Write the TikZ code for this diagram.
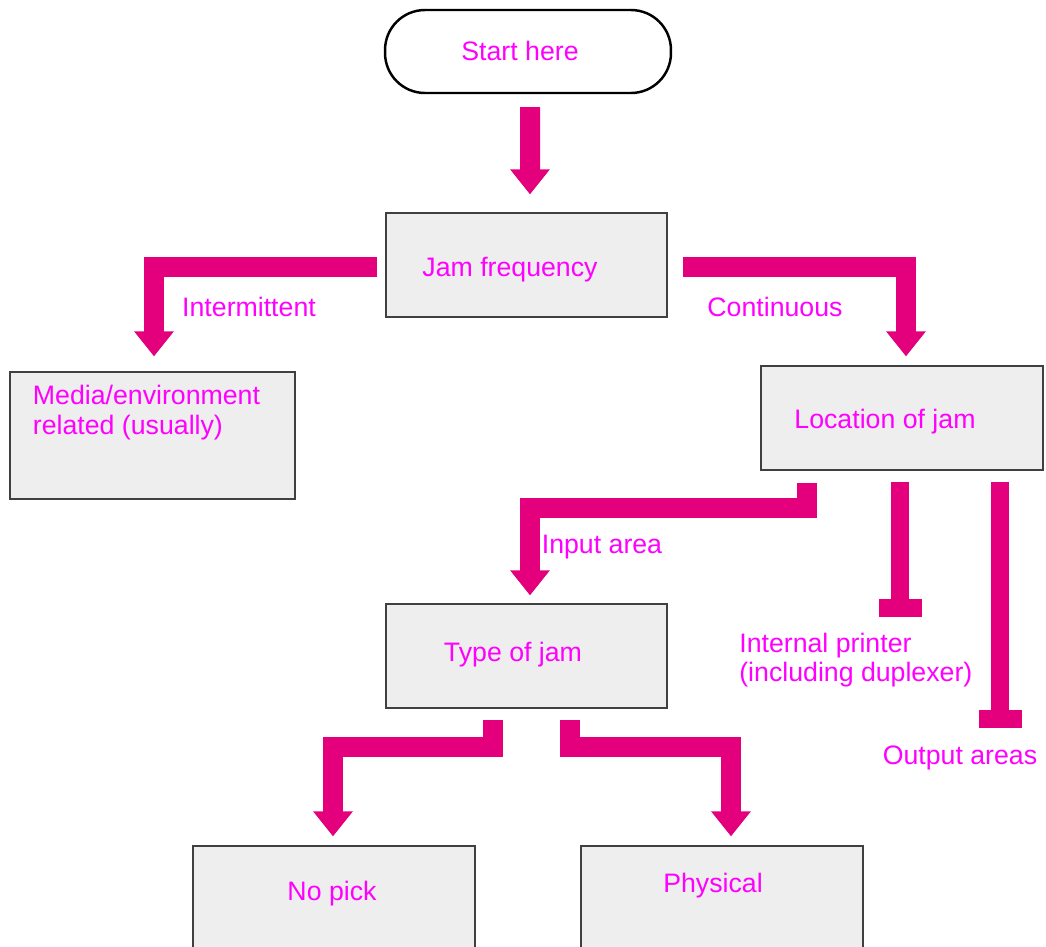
\documentclass[tikz,border=0pt]{standalone}
\usepackage{fontspec}
\setmainfont{Liberation Sans}
\usetikzlibrary{positioning,calc,arrows.meta}
\definecolor{jampink}{HTML}{E4007C}
\definecolor{jamtext}{HTML}{FF00FF}
\definecolor{jamgrey}{HTML}{EEEEEE}
\tikzset{
  stepbox/.style={draw=black!75,line width=0.7pt,fill=jamgrey,inner sep=0pt},
  jamlabel/.style={text=jamtext,font=\fontsize{15.2}{17}\selectfont,inner sep=0pt,align=left},
  fatarrow/.style={draw=jampink,line width=0.4cm,line join=miter,
    -{Triangle[width=0.76cm,length=0.5cm]}},
  fatstop/.style={draw=jampink,line width=0.36cm,
    -{Rectangle[width=0.86cm,length=0.36cm]}},
}
% box: name, centre, width, height, text, text offset
\newcommand{\jambox}[6]{%
  \node[stepbox,minimum width=#3,minimum height=#4] (#1) at (#2) {};
  \node[jamlabel] (#1-t) at ($(#1.center)+(#6)$) {#5};
}

\begin{document}
\begin{tikzpicture}[x=0.02cm,y=-0.02cm]
  \clip (0,0) rectangle (1046,947);
  \node[draw=black,line width=1.4pt,rounded corners=0.8cm,minimum width=5.72cm,
        minimum height=1.66cm,inner sep=0pt] (start) at (528,51.5) {};
  \node[jamlabel] (start-t) at (520,51) {Start here};
  \jambox{freq}{526.5,265}{5.62cm}{2.08cm}{Jam frequency}{-16.5,5}
  \jambox{media}{152.5,435.5}{5.70cm}{2.54cm}{Media/environment\\related (usually)}{-6,-22.5}
  \jambox{loc}{902,418}{5.64cm}{2.08cm}{Location of jam}{-17,4}
  \jambox{kind}{526.5,656}{5.62cm}{2.08cm}{Type of jam}{-13.5,-1}
  \jambox{nopick}{334,906}{5.64cm}{2.4cm}{No pick}{-2,-12}
  \jambox{phys}{722,906}{5.64cm}{2.4cm}{Physical}{-9,-20}

  % branch labels
  \node[jamlabel] (intermit) at (249,307) {Intermittent};
  \node[jamlabel] (contin) at (775,307) {Continuous};
  \node[jamlabel] (input) at (602,547) {Input area};
  \node[jamlabel,anchor=west,font=\fontsize{15.2}{16.5}\selectfont] (internal) at (739,660)
        {Internal printer\\(including duplexer)};
  \node[jamlabel] (output) at (960,758) {Output areas};
  \coordinate (intend) at (900,617);
  \coordinate (outend) at (1000,728);

  % arrows
  \draw[fatarrow] ($(start.south)+(2,13)$) -- ($(freq.north)+(3.5,-18)$);
  \draw[fatarrow] ($(freq.west)+(-8,2)$) -| ($(media.north)+(1.5,-15)$);
  \draw[fatarrow] ($(freq.east)+(15,2)$) -| ($(loc.north)+(4,-9)$);
  \draw[fatarrow] ($(loc.south)+(-95,12)$) -- ++(0,25) -| ($(kind.north)+(3.5,-8)$);
  \draw[fatstop] ($(loc.south)+(-2,11)$) -- (intend);
  \draw[fatstop] ($(loc.south)+(98,11)$) -- (outend);
  \draw[fatarrow] ($(kind.south)+(-33.5,11)$) -- ++(0,27.5) -| ($(nopick.north)+(-1,-9)$);
  \draw[fatarrow] ($(kind.south)+(43.5,11)$) -- ++(0,27.5) -| ($(phys.north)+(9,-9)$);
\end{tikzpicture}
\end{document}
